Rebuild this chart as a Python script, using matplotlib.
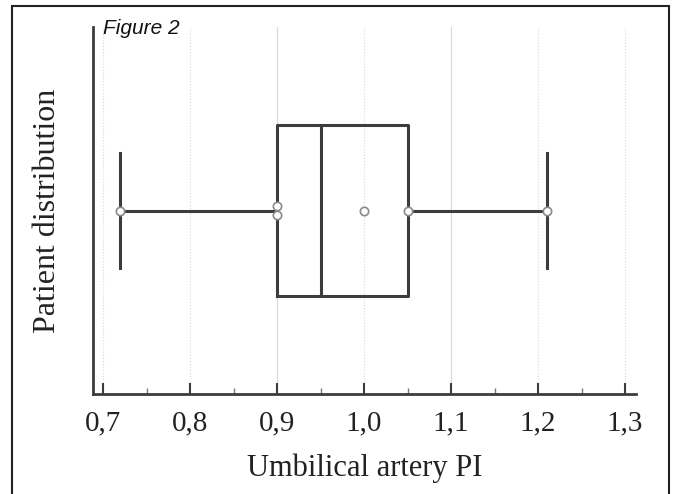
"""
Box plot of umbilical artery PI (Figure 2)
"""

import matplotlib.pyplot as plt
from matplotlib.patches import Rectangle

# データ
tick_values = [0.7, 0.8, 0.9, 1.0, 1.1, 1.2, 1.3]
tick_labels = ['0,7', '0,8', '0,9', '1,0', '1,1', '1,2', '1,3']
minor_values = [0.75, 0.85, 0.95, 1.05, 1.15, 1.25]

whisker_low = 0.72
q1 = 0.90
median = 0.95
q3 = 1.05
whisker_high = 1.21
mean_value = 1.00

# 白丸マーカー（ひげ端・箱端）
marker_x = [0.72, 0.90, 0.90, 1.05, 1.21]
marker_dy = [0.0, 0.025, -0.025, 0.0, 0.0]

line_color = '#3c3c3c'
serif = 'Liberation Serif'

fig = plt.figure(figsize=(6.78, 4.94), dpi=100)
fig.patch.set_facecolor('white')

# 外枠
fig.patches.append(Rectangle((12 / 678, -0.01), 657 / 678, 1 - 6 / 494 + 0.01,
                             transform=fig.transFigure, fill=False,
                             edgecolor='#222222', linewidth=1.5))

ax = fig.add_axes([93 / 678, 1 - 394 / 494, 543 / 678, 367 / 494])
ax.set_xlim(0.6885, 1.3126)
ax.set_ylim(0, 2)

# グリッド線
for v in tick_values:
    ls = '-' if v in (0.9, 1.1) else ':'
    ax.axvline(v, color='#d9d9d9', linewidth=0.8, linestyle=ls, zorder=0)

stats = [{
    'whislo': whisker_low, 'q1': q1, 'med': median, 'q3': q3,
    'whishi': whisker_high, 'mean': mean_value, 'fliers': [],
}]
lp = dict(color=line_color, linewidth=2.2)
ax.bxp(stats, positions=[1], widths=0.932, vert=False, showmeans=False,
       showfliers=False, capwidths=0.627,
       boxprops=lp, medianprops=lp, whiskerprops=lp, capprops=lp)

# 平均値マーカー
ax.plot([mean_value], [1], marker='o', markersize=6, markerfacecolor='white',
        markeredgecolor='#8a8a8a', markeredgewidth=1.2, linestyle='none', zorder=5)
ax.plot(marker_x, [1 + d for d in marker_dy], marker='o', markersize=6,
        markerfacecolor='white', markeredgecolor='#8a8a8a',
        markeredgewidth=1.2, linestyle='none', zorder=5)

# 軸の設定
ax.spines['top'].set_visible(False)
ax.spines['right'].set_visible(False)
ax.spines['left'].set_color(line_color)
ax.spines['bottom'].set_color(line_color)
ax.spines['left'].set_linewidth(2.0)
ax.spines['bottom'].set_linewidth(2.0)

ax.set_yticks([])
ax.set_xticks(tick_values)
ax.set_xticklabels(tick_labels, fontfamily=serif, fontsize=21)
ax.set_xticks(minor_values, minor=True)
ax.tick_params(axis='x', which='major', direction='in', length=8, width=1.5,
               color=line_color, pad=12, labelcolor='#222222')
ax.tick_params(axis='x', which='minor', direction='in', length=4, width=1.0,
               color='#777777')

ax.set_xlabel('Umbilical artery PI', fontfamily=serif, fontsize=22,
              color='#222222', labelpad=12)
ax.set_ylabel('Patient distribution', fontfamily=serif, fontsize=23,
              color='#222222', labelpad=22)

fig.text(103 / 678, 1 - 29 / 494, 'Figure 2', fontfamily='Liberation Sans',
         fontstyle='italic', fontsize=15, color='#111111', va='center')

fig.savefig('out.png', dpi=100, facecolor='white')
